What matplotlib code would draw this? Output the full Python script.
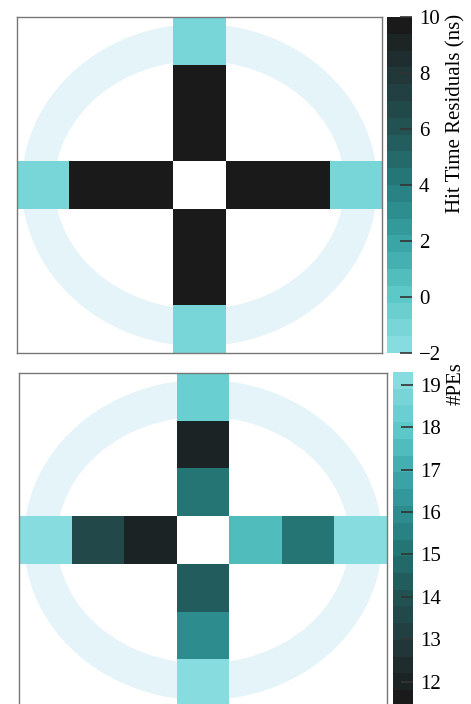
import numpy as np
import matplotlib.pyplot as plt
from matplotlib.colors import LinearSegmentedColormap, BoundaryNorm
from matplotlib.patches import Ellipse

plt.rcParams['font.family'] = ['Liberation Serif', 'DejaVu Serif']

# data: values along the cross (outer -> inner), nan = empty
nan = np.nan
time_row = [-1.4, 10.5, 10.5, nan, 10.5, 10.5, -1.4]   # middle row, left -> right
time_col = [-1.4, 10.5, 10.5, nan, 10.5, 10.5, -1.4]   # middle column, top -> bottom
pe_row = [19.0, 13.6, 12.0, nan, 17.4, 15.1, 19.0]
pe_col = [18.5, 12.0, 15.2, nan, 14.2, 16.1, 19.0]

time_range = (-2, 10)
pe_range = (11.4, 19.3)
time_ticks = [-2, 0, 2, 4, 6, 8, 10]
pe_ticks = [12, 13, 14, 15, 16, 17, 18, 19]
n_levels = 20

# light cyan -> near black
cmap = LinearSegmentedColormap.from_list('cyanblack', [
    (0.00, '#86dcdf'), (0.16, '#5cc8c8'), (0.33, '#36a0a2'),
    (0.50, '#267c7c'), (0.66, '#225656'), (0.82, '#223a3c'),
    (1.00, '#1a1a1a')])


def grid(row, col):
    g = np.full((7, 7), np.nan)
    g[3, :] = row
    g[:, 3] = col
    return g


def panel(ax, cax, data, vrange, ticks, cm, label, label_top):
    ax.add_patch(Ellipse((0.5, 0.5), 0.97, 0.955, transform=ax.transAxes,
                         color='#e4f4f9', zorder=0))
    ax.add_patch(Ellipse((0.5, 0.5), 0.79, 0.735, transform=ax.transAxes,
                         color='white', zorder=0))
    levels = np.linspace(vrange[0], vrange[1], n_levels + 1)
    norm = BoundaryNorm(levels, cm.N, clip=True)
    m = ax.pcolormesh(np.arange(8), np.arange(8), data[::-1], cmap=cm,
                      norm=norm, zorder=1)
    ax.set_xlim(0, 7)
    ax.set_ylim(0, 7)
    ax.set_xticks([])
    ax.set_yticks([])
    for s in ax.spines.values():
        s.set_color('#777777')
        s.set_linewidth(1.0)
    cb = fig.colorbar(m, cax=cax, ticks=ticks)
    cb.outline.set_visible(False)
    cax.tick_params(direction='in', length=9, width=1.2, color='#333333',
                    labelsize=15, pad=5)
    cax.minorticks_off()
    fig.text(456 / 471, 1 - label_top / 704, label, rotation=90,
             ha='center', va='top', fontsize=15)


fig = plt.figure(figsize=(4.71, 7.04), dpi=100)
W, H = 471, 704


def box(l, t, r, b):
    return [l / W, 1 - b / H, (r - l) / W, (b - t) / H]


ax1 = fig.add_axes(box(17, 17, 382, 353))
cax1 = fig.add_axes(box(387, 17, 412, 353))
ax2 = fig.add_axes(box(19, 373, 387, 707))
cax2 = fig.add_axes(box(393, 372, 413, 707))

panel(ax1, cax1, grid(time_row, time_col), time_range, time_ticks, cmap,
      'Hit Time Residuals (ns)', 14)
panel(ax2, cax2, grid(pe_row, pe_col), pe_range, pe_ticks, cmap.reversed(),
      '#PEs', 362)

fig.savefig('out.png', dpi=100)
